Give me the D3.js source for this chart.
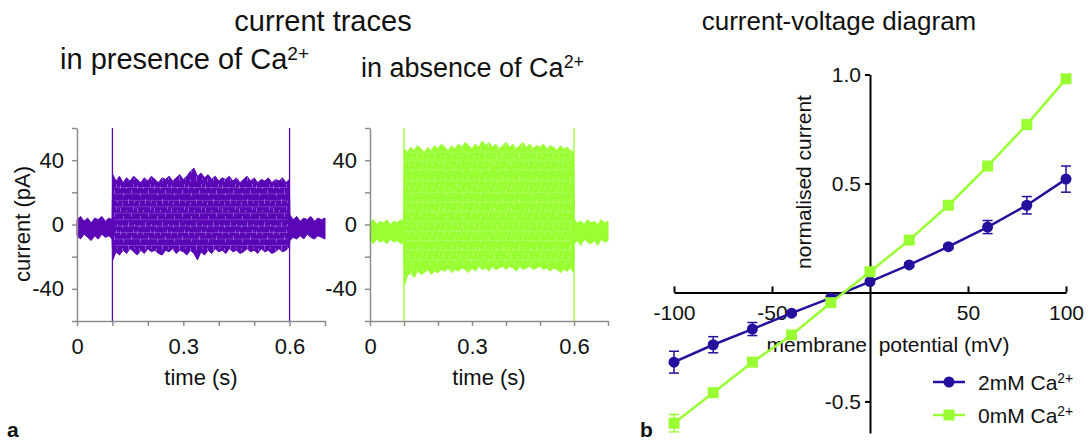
<!DOCTYPE html>
<html>
<head>
<meta charset="utf-8">
<script src="https://cdn.jsdelivr.net/npm/d3@7"></script>
<style>
  body { margin: 0; background: #fff; }
  text { font-family: "Liberation Sans", Arial, sans-serif; fill: #111; }
</style>
</head>
<body>
<svg id="fig" width="1089" height="441"></svg>
<script>
// ---- panel a: current traces (upper/lower edge of the overlaid sweeps)
var traceTime = [0, 0.01, 0.02, 0.03, 0.04, 0.05, 0.06, 0.07, 0.08, 0.09, 0.099,
  0.101, 0.11, 0.12, 0.13, 0.14, 0.15, 0.16, 0.17, 0.18, 0.19,
  0.20, 0.21, 0.22, 0.23, 0.24, 0.25, 0.26, 0.27, 0.28, 0.29,
  0.30, 0.31, 0.32, 0.33, 0.34, 0.35, 0.36, 0.37, 0.38, 0.39,
  0.40, 0.41, 0.42, 0.43, 0.44, 0.45, 0.46, 0.47, 0.48, 0.49,
  0.50, 0.51, 0.52, 0.53, 0.54, 0.55, 0.56, 0.57, 0.58, 0.59, 0.599,
  0.601, 0.61, 0.62, 0.63, 0.64, 0.65, 0.66, 0.67, 0.68, 0.69, 0.70];

var presenceTop = [3, 5, 2, 4, 1, 4, 3, 5, 2, 4, 3,
  31, 27, 30, 26, 29, 27, 30, 28, 26, 29,
  27, 30, 28, 26, 29, 28, 30, 27, 29, 31,
  28, 30, 33, 35, 30, 32, 29, 31, 28, 30,
  27, 29, 28, 30, 27, 29, 26, 28, 30, 27,
  29, 26, 28, 27, 29, 26, 28, 27, 29, 26, 28,
  6, 3, 5, 2, 4, 3, 5, 2, 4, 3, 4];
var presenceBottom = [-7, -9, -6, -8, -10, -7, -9, -6, -8, -7, -9,
  -22, -17, -19, -16, -18, -15, -17, -19, -16, -18,
  -15, -17, -16, -18, -19, -16, -17, -15, -18, -16,
  -17, -19, -16, -18, -22, -17, -19, -16, -18, -15,
  -17, -16, -18, -15, -17, -16, -18, -17, -15, -17,
  -16, -18, -15, -17, -16, -18, -17, -15, -17, -16, -14,
  -10, -8, -9, -7, -9, -6, -8, -9, -7, -8, -9];
var absenceTop = [1, 3, 0, 2, 1, 3, 0, 2, 1, 3, 2,
  47, 45, 48, 46, 49, 47, 45, 48, 46, 49,
  47, 50, 48, 46, 49, 47, 50, 48, 51, 49,
  47, 50, 48, 52, 49, 51, 48, 50, 47, 49,
  51, 48, 50, 47, 49, 51, 48, 50, 47, 49,
  48, 50, 47, 49, 48, 46, 49, 47, 48, 46, 45,
  3, 1, 2, 0, 3, 1, 2, 0, 3, 1, 2];
var absenceBottom = [-10, -12, -9, -11, -10, -12, -9, -11, -10, -12, -11,
  -38, -32, -30, -33, -29, -31, -30, -28, -31, -29,
  -30, -28, -29, -27, -30, -28, -29, -27, -28, -30,
  -27, -29, -26, -28, -27, -29, -26, -28, -27, -26,
  -28, -26, -27, -29, -26, -28, -27, -26, -28, -27,
  -26, -28, -27, -29, -27, -28, -30, -28, -29, -27, -30,
  -12, -10, -13, -9, -11, -12, -10, -13, -9, -11, -10];
// steady-state level of each sweep during the pulse (pA)
var presenceLevels = [-13, -9, -5, -1, 3, 7, 11, 15, 19, 23];
var absenceLevels = [-22, -16, -10, -4, 2, 8, 14, 20, 27, 34, 40, 45];
var stepTimes = [0.1, 0.6];
var timeTicks = [0, 0.1, 0.2, 0.3, 0.4, 0.5, 0.6, 0.7];
var timeLabels = [0, 0.3, 0.6];
var currentTicks = [-60, -40, -20, 0, 20, 40, 60];
var currentLabels = [-40, 0, 40];

// ---- panel b: current-voltage diagram
var voltage = [-100, -80, -60, -40, -20, 0, 20, 40, 60, 80, 100];
var ca2Mean = [-0.32, -0.24, -0.168, -0.095, -0.025, 0.05, 0.126, 0.21, 0.30, 0.40, 0.52];
var ca2Err  = [0.05, 0.037, 0.03, 0.01, 0.01, 0.01, 0.01, 0.01, 0.03, 0.04, 0.06];
var ca0Mean = [-0.60, -0.46, -0.32, -0.195, -0.047, 0.095, 0.24, 0.40, 0.58, 0.77, 0.98];
var ca0Err  = [0.04, 0.01, 0.01, 0.01, 0.01, 0.01, 0.01, 0.01, 0.01, 0.01, 0.01];
var voltageTicks = [-100, -50, 50, 100];
var normTicks = [-0.5, 0.5, 1.0];

var purple = "#5a06b6", green = "#99ff33", navy = "#23109c";
var svg = d3.select("#fig");

// speckle texture for the dense part of the traces (short vertical light streaks)
var pat = svg.append("defs").append("pattern").attr("id", "speckle")
  .attr("patternUnits", "userSpaceOnUse").attr("width", 17).attr("height", 23);
[[1, 1, 5], [4, 9, 12], [7, 3, 5], [9, 15, 20], [12, 6, 10], [15, 17, 19], [3, 18, 21], [14, 0, 3]].forEach(function(p) {
  pat.append("line").attr("x1", p[0] + 0.5).attr("x2", p[0] + 0.5).attr("y1", p[1]).attr("y2", p[2])
    .attr("stroke", "#fff").attr("stroke-opacity", 0.3).attr("stroke-width", 1);
});

function superText(sel, base, sup) {
  sel.append("tspan").text(base);
  sel.append("tspan").attr("font-size", "0.66em").attr("dy", "-0.48em").text(sup);
}

// titles
svg.append("text").attr("x", 323).attr("y", 31).attr("text-anchor", "middle")
  .attr("font-size", 29).text("current traces");
superText(svg.append("text").attr("x", 60).attr("y", 69).attr("font-size", 29), "in presence of Ca", "2+");
superText(svg.append("text").attr("x", 361).attr("y", 77).attr("font-size", 27), "in absence of Ca", "2+");
svg.append("text").attr("x", 839).attr("y", 30).attr("text-anchor", "middle")
  .attr("font-size", 26).text("current-voltage diagram");

// ---- trace panels
function tracePanel(x0, x1, top, bottom, levels, color, showYTitle) {
  var x = d3.scaleLinear().domain([0, 0.7]).range([x0, x1]);
  var y = d3.scaleLinear().domain([-60, 60]).range([321, 128]);
  var g = svg.append("g");

  var band = d3.area()
    .x(function(d, i) { return x(traceTime[i]); })
    .y0(function(d, i) { return y(bottom[i]); })
    .y1(function(d) { return y(d); });
  g.append("path").datum(top).attr("d", band).attr("fill", color)
    .attr("stroke", color).attr("stroke-width", 1);

  // lighter gaps between individual sweeps
  g.selectAll("line.level").data(levels).enter().append("line")
    .attr("x1", x(stepTimes[0]) + 2).attr("x2", x(stepTimes[1]) - 2)
    .attr("y1", function(d) { return y(d); }).attr("y2", function(d) { return y(d); })
    .attr("stroke", "#fff").attr("stroke-opacity", 0.2).attr("stroke-width", 1);

  var pulseOnly = band.defined(function(d, i) {
    return traceTime[i] > stepTimes[0] && traceTime[i] < stepTimes[1];
  });
  g.append("path").datum(top).attr("d", pulseOnly).attr("fill", "url(#speckle)");

  // capacitive transients at the voltage steps
  g.selectAll("line.step").data(stepTimes).enter().append("line")
    .attr("x1", function(d) { return x(d); }).attr("x2", function(d) { return x(d); })
    .attr("y1", y(-60)).attr("y2", y(60))
    .attr("stroke", color).attr("stroke-width", 1.3);

  var yAxis = d3.axisLeft(y).tickValues(currentTicks).tickSize(5).tickSizeOuter(0).tickPadding(8)
    .tickFormat(function(d) { return currentLabels.indexOf(d) >= 0 ? String(d) : ""; });
  var xAxis = d3.axisBottom(x).tickValues(timeTicks).tickSize(5).tickSizeOuter(0).tickPadding(12)
    .tickFormat(function(d) { return timeLabels.indexOf(d) >= 0 ? String(d) : ""; });
  [g.append("g").attr("transform", "translate(" + x0 + ",0)").call(yAxis),
   g.append("g").attr("transform", "translate(0,321)").call(xAxis)].forEach(function(a) {
    a.selectAll("path, line").attr("stroke", "#8c8c8c").attr("stroke-width", 1.5);
    a.selectAll("text").attr("font-size", 22).attr("font-family", null).attr("fill", "#111");
  });

  g.append("text").attr("x", (x0 + x1) / 2).attr("y", 385).attr("text-anchor", "middle")
    .attr("font-size", 22).text("time (s)");
  if (showYTitle) {
    g.append("text").attr("transform", "translate(30,224) rotate(-90)").attr("text-anchor", "middle")
      .attr("font-size", 22).text("current (pA)");
  }
}
tracePanel(77, 325, presenceTop, presenceBottom, presenceLevels, purple, true);
tracePanel(370, 608, absenceTop, absenceBottom, absenceLevels, green, false);

// ---- I-V panel
var xv = d3.scaleLinear().domain([-100, 100]).range([674, 1066]);
var yv = d3.scaleLinear().domain([-0.645, 1.0]).range([433, 74.5]);
var iv = svg.append("g");

var xAxisV = d3.axisBottom(xv).tickValues(voltageTicks).tickSize(-6).tickSizeOuter(0).tickPadding(13)
  .tickFormat(function(d) { return String(d); });
var yAxisV = d3.axisLeft(yv).tickValues(normTicks).tickSize(5).tickSizeOuter(0).tickPadding(4)
  .tickFormat(function(d) { return d.toFixed(1); });
[iv.append("g").attr("transform", "translate(0," + yv(0) + ")").call(xAxisV),
 iv.append("g").attr("transform", "translate(" + xv(0) + ",0)").call(yAxisV)].forEach(function(a) {
  a.selectAll("path, line").attr("stroke", "#000").attr("stroke-width", 2);
  a.selectAll("text").attr("font-size", 21).attr("font-family", null).attr("fill", "#111");
});

iv.append("text").attr("x", 888).attr("y", 352).attr("text-anchor", "middle")
  .style("white-space", "pre").attr("font-size", 21).text("membrane  potential (mV)");
iv.append("text").attr("transform", "translate(811,182) rotate(-90)").attr("text-anchor", "middle")
  .attr("font-size", 21).text("normalised current");

var series = [
  {name: "2mM Ca", mean: ca2Mean, err: ca2Err, color: navy, shape: "circle"},
  {name: "0mM Ca", mean: ca0Mean, err: ca0Err, color: green, shape: "square"}
];

function marker(sel, s) {
  if (s.shape === "circle") {
    sel.append("circle").attr("r", 5.5).attr("fill", s.color);
  } else {
    sel.append("rect").attr("x", -5.5).attr("y", -5.5).attr("width", 11).attr("height", 11).attr("fill", s.color);
  }
}

series.forEach(function(s) {
  var sg = iv.append("g");
  var line = d3.line().x(function(d, i) { return xv(voltage[i]); }).y(function(d) { return yv(d); });
  sg.append("path").datum(s.mean).attr("d", line).attr("fill", "none")
    .attr("stroke", s.color).attr("stroke-width", 2.5);
  var eb = sg.selectAll("g.err").data(s.mean).enter().append("g")
    .attr("stroke", s.color).attr("stroke-width", 1.5);
  eb.append("line")
    .attr("x1", function(d, i) { return xv(voltage[i]); }).attr("x2", function(d, i) { return xv(voltage[i]); })
    .attr("y1", function(d, i) { return yv(d - s.err[i]); }).attr("y2", function(d, i) { return yv(d + s.err[i]); });
  [-1, 1].forEach(function(k) {
    eb.append("line")
      .attr("x1", function(d, i) { return xv(voltage[i]) - 5; }).attr("x2", function(d, i) { return xv(voltage[i]) + 5; })
      .attr("y1", function(d, i) { return yv(d + k * s.err[i]); }).attr("y2", function(d, i) { return yv(d + k * s.err[i]); });
  });
  sg.selectAll("g.pt").data(s.mean).enter().append("g")
    .attr("transform", function(d, i) { return "translate(" + xv(voltage[i]) + "," + yv(d) + ")"; })
    .each(function() { marker(d3.select(this), s); });
});

// legend
series.forEach(function(s, i) {
  var ly = 382 + i * 33;
  var lg = iv.append("g");
  lg.append("line").attr("x1", 933).attr("x2", 965).attr("y1", ly).attr("y2", ly)
    .attr("stroke", s.color).attr("stroke-width", 2.5);
  marker(lg.append("g").attr("transform", "translate(949," + ly + ")"), s);
  superText(lg.append("text").attr("x", 978).attr("y", ly + 8).attr("font-size", 21), s.name, "2+");
});

// panel letters
svg.append("text").attr("x", 7).attr("y", 437).attr("font-size", 21).attr("font-weight", "bold").text("a");
svg.append("text").attr("x", 640).attr("y", 437).attr("font-size", 21).attr("font-weight", "bold").text("b");
</script>
</body>
</html>
